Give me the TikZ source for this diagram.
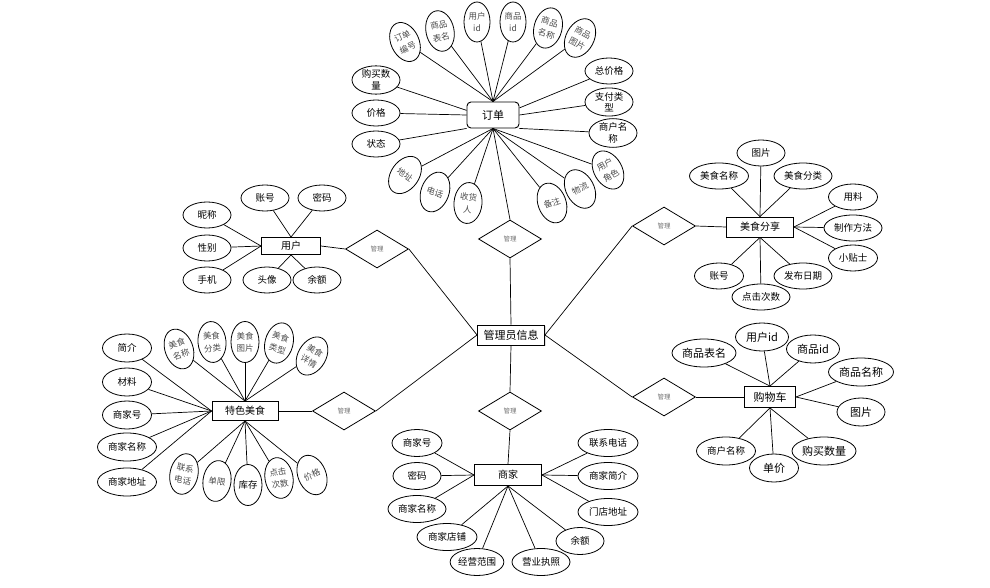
\documentclass[tikz,border=0pt]{standalone}
\usepackage{fontspec}
\setmainfont{Noto Sans CJK SC}
\usetikzlibrary{shapes.geometric,shadows}
\begin{document}
\begin{tikzpicture}[x=1pt,y=-1pt,
  every node/.style={inner sep=0pt},
  conn/.style={draw=black, line width=0.7pt},
  ent/.style={draw, rectangle, line width=0.9pt, font=\fontsize{10}{12}\selectfont, fill=white},
  attr/.style={draw, ellipse, line width=0.8pt, minimum width=48pt, minimum height=26pt, font=\fontsize{9.5}{11.5}\selectfont, align=center, fill=white},
  vattr/.style={draw, ellipse, line width=0.8pt, minimum width=28pt, minimum height=41pt, font=\fontsize{8.5}{12.5}\selectfont, text=black!70, align=center, fill=white},
  rel/.style={draw, diamond, line width=0.8pt, minimum width=63pt, minimum height=38pt, font=\fontsize{6.5}{7}\selectfont, text=black!55, fill=white},
  big/.style={font=\fontsize{11}{12}\selectfont},
]
\useasboundingbox (0,0) rectangle (990,588);

% ---------- central ----------
\node[ent, big, minimum width=67pt, minimum height=20pt, drop shadow={shadow xshift=1pt, shadow yshift=-1pt, opacity=0.25}] (gly) at (511,335) {管理员信息};

% ---------- order ----------
\node[ent, big, rounded corners=4pt, minimum width=52pt, minimum height=26pt] (dd) at (493,115) {订单};
\node[vattr, rotate=25] (dd1) at (405,42) {订单\\编号};
\node[vattr, rotate=12] (dd2) at (440,31) {商品\\表名};
\node[vattr, minimum width=26pt, minimum height=40pt] (dd3) at (477,22) {用户\\id};
\node[vattr, minimum width=26pt, minimum height=40pt] (dd4) at (513,22) {商品\\id};
\node[vattr, rotate=-15] (dd5) at (548,28) {商品\\名称};
\node[vattr, rotate=-28] (dd6) at (580,38) {商品\\图片};
\node[attr] (dd7) at (376,80) {购买数\\量};
\node[attr] (dd8) at (376,113) {价格};
\node[attr] (dd9) at (376,144) {状态};
\node[attr] (dd10) at (609,71) {总价格};
\node[attr] (dd11) at (609,102) {支付类\\型};
\node[attr] (dd12) at (613,133) {商户名\\称};
\node[vattr, rotate=30] (dd13) at (608,170) {用户\\角色};
\node[vattr, rotate=28] (dd14) at (580,189) {物流};
\node[vattr, rotate=20] (dd15) at (552,203) {备注};
\node[vattr, rotate=-5] (dd16) at (468,203) {收货\\人};
\node[vattr, rotate=-20] (dd17) at (435,192) {电话};
\node[vattr, rotate=-35] (dd18) at (405,175) {地址};
\foreach \a in {dd1,dd2,dd3,dd4,dd5,dd6} \draw[conn] (\a) -- (dd.north);
\draw[conn] (dd7) -- (dd.170);
\draw[conn] (dd8) -- (dd.west);
\draw[conn] (dd9) -- (dd.south west);
\draw[conn] (dd10) -- (dd.15);
\draw[conn] (dd11) -- (dd.east);
\draw[conn] (dd12) -- (dd.south east);
\foreach \a in {dd13,dd14,dd15,dd16,dd17,dd18} \draw[conn] (\a) -- (dd.south);
\node[rel] (r1) at (510,239) {管理};
\draw[conn] (dd.south) -- (r1.north);
\draw[conn] (r1.south) -- (gly.north);

% ---------- user ----------
\node[ent, minimum width=59pt, minimum height=17pt] (yh) at (291,246) {用户};
\node[attr] (yh1) at (265,198) {账号};
\node[attr] (yh2) at (322,198) {密码};
\node[attr] (yh3) at (207,215) {昵称};
\node[attr] (yh4) at (207,248) {性别};
\node[attr] (yh5) at (207,280) {手机};
\node[attr] (yh6) at (267,280) {头像};
\node[attr] (yh7) at (317,280) {余额};
\foreach \a in {yh1,yh2} \draw[conn] (\a) -- (yh.north);
\foreach \a in {yh3,yh4,yh5} \draw[conn] (\a) -- (yh.west);
\foreach \a in {yh6,yh7} \draw[conn] (\a) -- (yh.south);
\node[rel] (r2) at (377,249) {管理};
\draw[conn] (yh.east) -- (r2.west);
\draw[conn] (r2.east) -- (gly.west);

% ---------- food share ----------
\node[ent, minimum width=67pt, minimum height=20pt] (ms) at (760,227) {美食分享};
\node[attr] (ms1) at (761,153) {图片};
\node[attr, minimum width=59pt] (ms2) at (719,176) {美食名称};
\node[attr, minimum width=58pt] (ms3) at (803,176) {美食分类};
\node[attr, minimum width=49pt] (ms4) at (853,197) {用料};
\node[attr, minimum width=58pt] (ms5) at (853,228) {制作方法};
\node[attr, minimum width=49pt] (ms6) at (853,258) {小贴士};
\node[attr, minimum width=49pt] (ms7) at (719,276) {账号};
\node[attr, minimum width=58pt] (ms8) at (761,297) {点击次数};
\node[attr, minimum width=58pt] (ms9) at (803,276) {发布日期};
\foreach \a in {ms1,ms2,ms3} \draw[conn] (\a) -- (ms.north);
\foreach \a in {ms4,ms5,ms6} \draw[conn] (\a) -- (ms.east);
\foreach \a in {ms7,ms8,ms9} \draw[conn] (\a) -- (ms.south);
\node[rel] (r3) at (664,226) {管理};
\draw[conn] (gly.east) -- (r3.west);
\draw[conn] (r3.east) -- (ms.west);

% ---------- cart ----------
\node[ent, big, minimum width=51pt, minimum height=21pt] (gwc) at (770,397) {购物车};
\node[attr, big, minimum width=64pt, minimum height=28pt] (gw1) at (704,353) {商品表名};
\node[attr, big, minimum width=53pt, minimum height=28pt] (gw2) at (762,337) {用户id};
\node[attr, big, minimum width=53pt, minimum height=28pt] (gw3) at (813,349) {商品id};
\node[attr, big, minimum width=65pt, minimum height=28pt] (gw4) at (861,372) {商品名称};
\node[attr, big, minimum width=48pt, minimum height=28pt] (gw5) at (861,412) {图片};
\node[attr, big, minimum width=64pt, minimum height=28pt] (gw6) at (824,451) {购买数量};
\node[attr, big, minimum width=49pt, minimum height=28pt] (gw7) at (774,468) {单价};
\node[attr, minimum width=59pt, minimum height=28pt] (gw8) at (726,451) {商户名称};
\foreach \a in {gw1,gw2,gw3} \draw[conn] (\a) -- (gwc.north);
\foreach \a in {gw4,gw5} \draw[conn] (\a) -- (gwc.east);
\foreach \a in {gw6,gw7,gw8} \draw[conn] (\a) -- (gwc.south);
\node[rel] (r4) at (664,397) {管理};
\draw[conn] (gly.east) -- (r4.west);
\draw[conn] (r4.east) -- (gwc.west);

% ---------- special food ----------
\node[ent, minimum width=66pt, minimum height=19pt] (ts) at (245,411) {特色美食};
\node[attr, minimum width=49pt, minimum height=28pt] (ts1) at (127,348) {简介};
\node[attr, minimum width=49pt, minimum height=28pt] (ts2) at (127,382) {材料};
\node[attr, minimum width=49pt, minimum height=28pt] (ts3) at (127,415) {商家号};
\node[attr, minimum width=59pt, minimum height=28pt] (ts4) at (127,447) {商家名称};
\node[attr, minimum width=59pt, minimum height=28pt] (ts5) at (127,482) {商家地址};
\node[vattr, rotate=20] (ts6) at (179,349) {美食\\名称};
\node[vattr, rotate=5] (ts7) at (212,342) {美食\\分类};
\node[vattr] (ts8) at (245,342) {美食\\图片};
\node[vattr, rotate=-15] (ts9) at (279,343) {美食\\类型};
\node[vattr, rotate=-30] (ts10) at (312,356) {美食\\详情};
\node[vattr, rotate=-12] (ts11) at (184,474) {联系\\电话};
\node[vattr, rotate=-8] (ts12) at (217,481) {单限};
\node[vattr, text=black, font=\fontsize{9.5}{11}\selectfont] (ts13) at (248,485) {库存};
\node[vattr, rotate=10] (ts14) at (279,478) {点击\\次数};
\node[vattr, rotate=22] (ts15) at (312,475) {价格};
\foreach \a in {ts1,ts2,ts3,ts4,ts5} \draw[conn] (\a) -- (ts.west);
\foreach \a in {ts6,ts7,ts8,ts9,ts10} \draw[conn] (\a) -- (ts.north);
\foreach \a in {ts11,ts12,ts13,ts14,ts15} \draw[conn] (\a) -- (ts.south);
\node[rel] (r5) at (344,411) {管理};
\draw[conn] (ts.east) -- (r5.west);
\draw[conn] (r5.east) -- (gly.west);

% ---------- merchant ----------
\node[ent, minimum width=67pt, minimum height=21pt] (sj) at (508,475) {商家};
\node[attr, minimum width=50pt, minimum height=27pt] (sj1) at (417,443) {商家号};
\node[attr, minimum width=48pt, minimum height=27pt] (sj2) at (417,476) {密码};
\node[attr, minimum width=58pt, minimum height=27pt] (sj3) at (417,509) {商家名称};
\node[attr, minimum width=60pt, minimum height=27pt] (sj4) at (447,537) {商家店铺};
\node[attr, minimum width=52pt, minimum height=27pt] (sj5) at (477,562) {经营范围};
\node[attr, minimum width=58pt, minimum height=27pt] (sj6) at (541,562) {营业执照};
\node[attr, minimum width=48pt, minimum height=27pt] (sj7) at (580,541) {余额};
\node[attr, minimum width=60pt, minimum height=27pt] (sj8) at (608,512) {门店地址};
\node[attr, minimum width=60pt, minimum height=27pt] (sj9) at (608,476) {商家简介};
\node[attr, minimum width=60pt, minimum height=27pt] (sj10) at (608,443) {联系电话};
\foreach \a in {sj1,sj2,sj3} \draw[conn] (\a) -- (sj.west);
\foreach \a in {sj4,sj5,sj6,sj7} \draw[conn] (\a) -- (sj.south);
\foreach \a in {sj8,sj9,sj10} \draw[conn] (\a) -- (sj.east);
\node[rel] (r6) at (510,411) {管理};
\draw[conn] (gly.south) -- (r6.north);
\draw[conn] (r6.south) -- (sj.north);
\end{tikzpicture}
\end{document}
